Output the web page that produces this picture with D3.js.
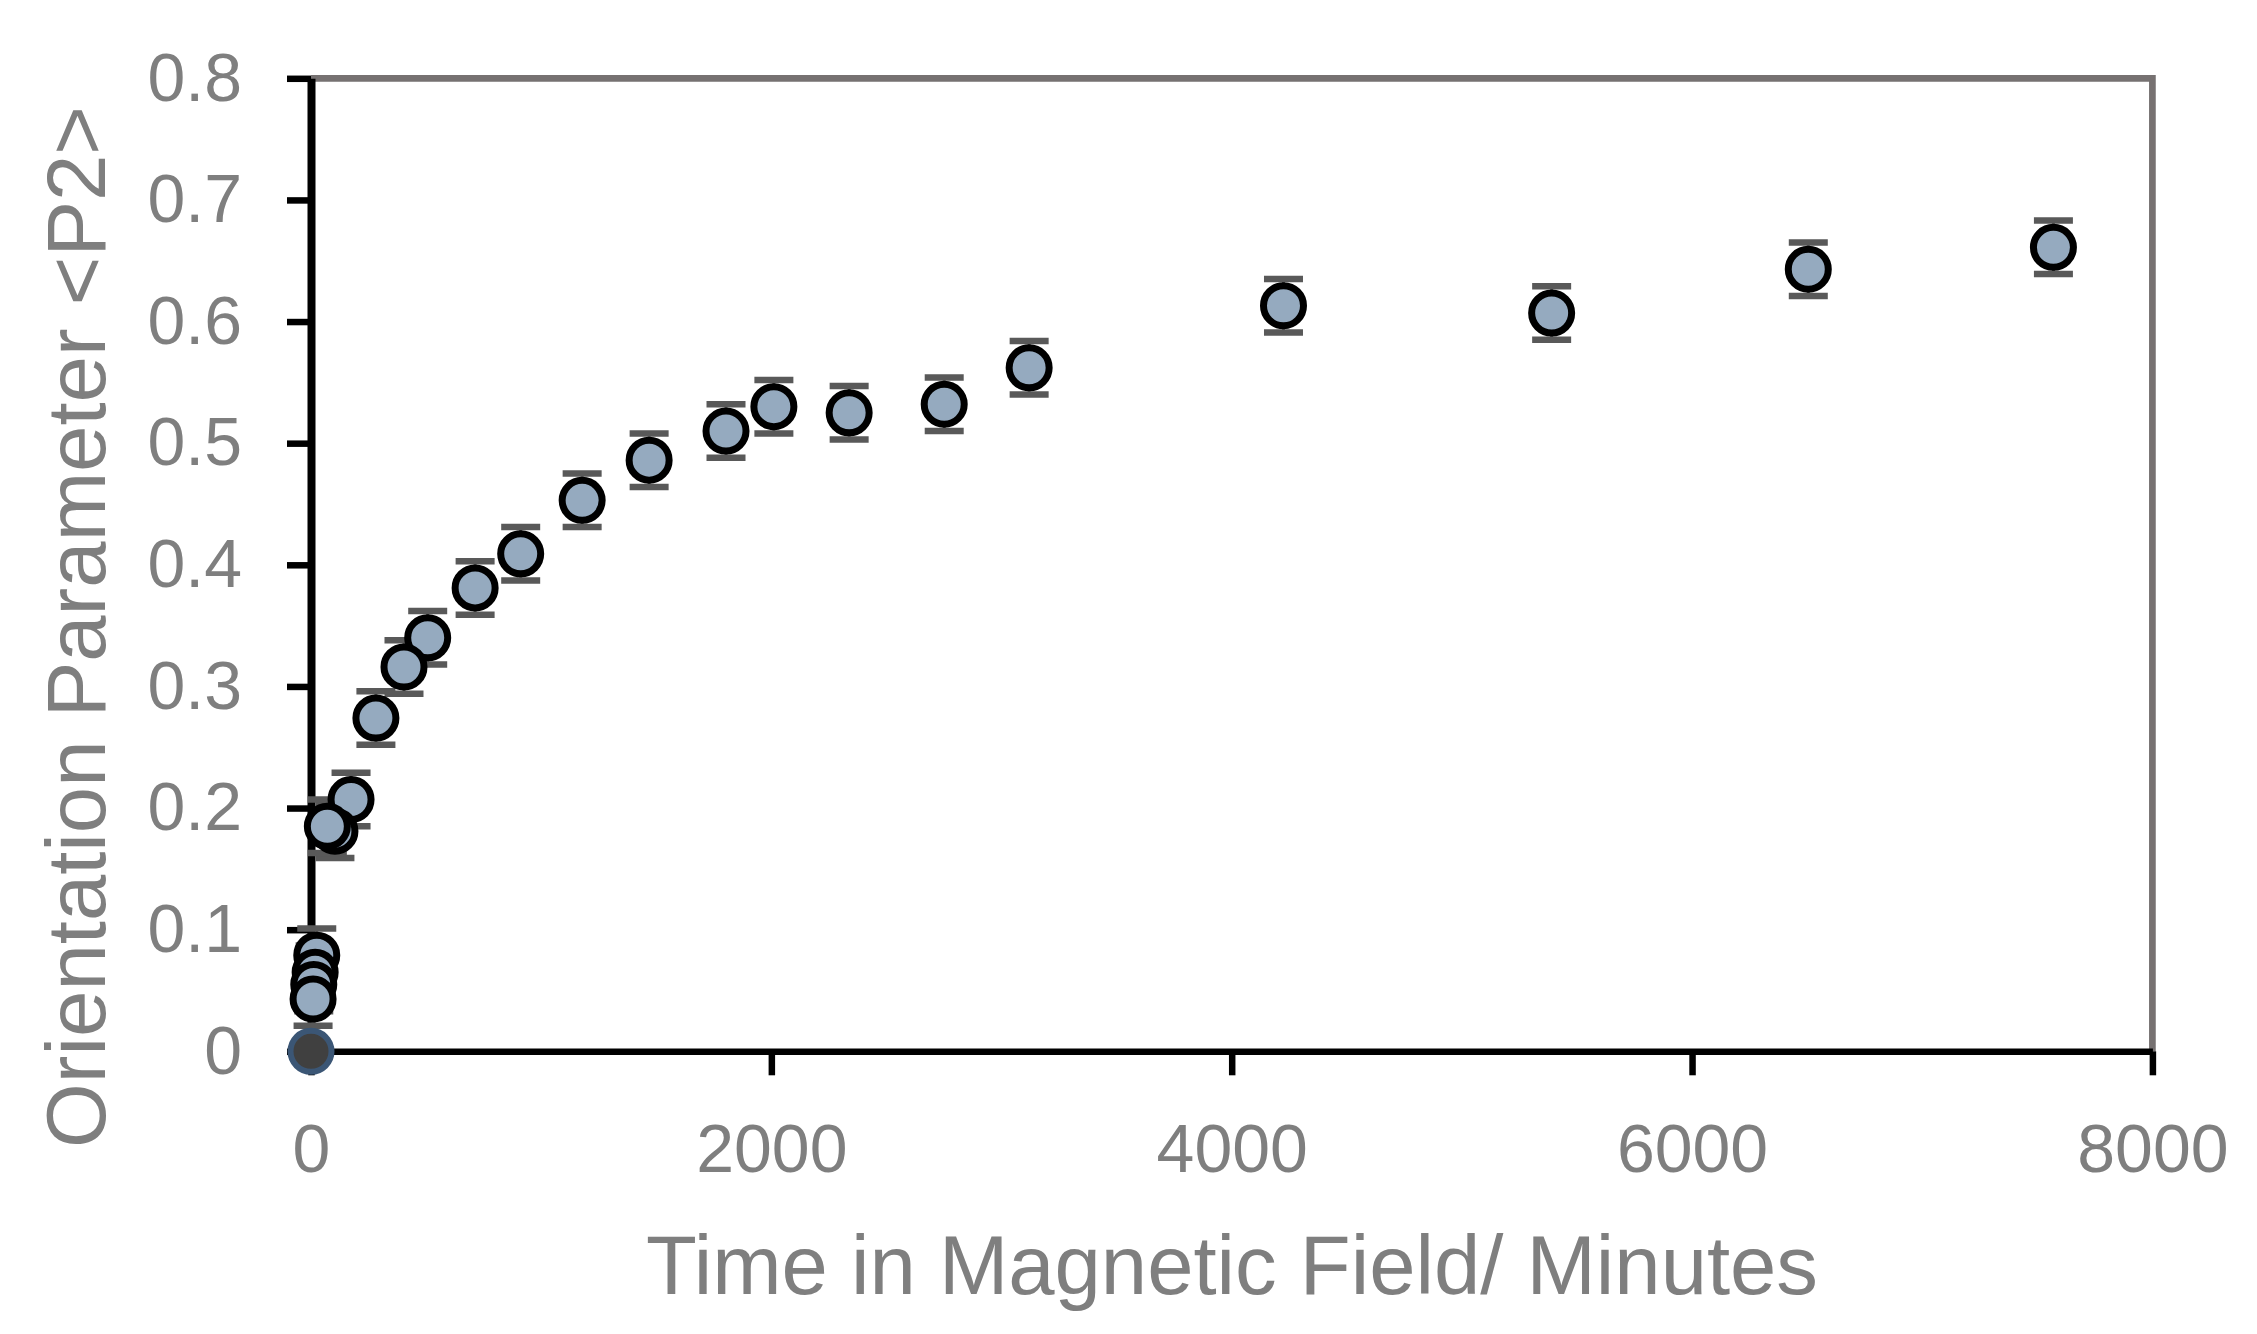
<!DOCTYPE html>
<html>
<head>
<meta charset="utf-8">
<script src="https://cdn.jsdelivr.net/npm/d3@7"></script>
<style>
  html, body { margin: 0; padding: 0; background: #ffffff; }
  svg { display: block; }
</style>
</head>
<body>
<svg id="chart" width="2257" height="1334"></svg>
<script>
// ---- data ----
const timeMinutes = [9, 12, 18, 25, 71, 104, 174, 282, 404, 507, 713, 911, 1178, 1469, 1803, 2011, 2338, 2751, 3120, 4225, 5390, 6505, 7570];
const orientationP2 = [0.043, 0.055, 0.065, 0.079, 0.185, 0.181, 0.207, 0.274, 0.316, 0.340, 0.381, 0.409, 0.453, 0.486, 0.510, 0.530, 0.525, 0.532, 0.562, 0.613, 0.607, 0.643, 0.661];
const errorP2 = [0.022, 0.022, 0.022, 0.022, 0.022, 0.022, 0.022, 0.022, 0.022, 0.022, 0.022, 0.022, 0.022, 0.022, 0.022, 0.022, 0.022, 0.022, 0.022, 0.022, 0.022, 0.022, 0.022];
const startTime = [0];
const startP2 = [0];
const xTickValues = [0, 2000, 4000, 6000, 8000];
const yTickValues = [0, 0.1, 0.2, 0.3, 0.4, 0.5, 0.6, 0.7, 0.8];
const xTitle = "Time in Magnetic Field/ Minutes";
const yTitle = "Orientation Parameter <P2>";

// ---- drawing ----
const svg = d3.select("#chart");
svg.append("rect").attr("width", 2257).attr("height", 1334).attr("fill", "#ffffff");

const x = d3.scaleLinear().domain([0, 8000]).range([311, 2152.4]);
const y = d3.scaleLinear().domain([0, 0.8]).range([1051.3, 78.3]);

const font = "'Liberation Sans', Arial, sans-serif";
const textGray = "#7f7f7f";

// top & right frame (gray)
svg.append("path")
  .attr("d", `M${x(0)},${y(0.8)} H${x(8000)} V${y(0)}`)
  .attr("fill", "none")
  .attr("stroke", "#767171")
  .attr("stroke-width", 6.7);

// left axis
const yAxis = svg.append("g")
  .attr("transform", `translate(${x(0)},0)`)
  .call(d3.axisLeft(y).tickValues(yTickValues).tickSize(24).tickSizeOuter(0).tickPadding(45)
        .tickFormat(d => d3.format("")(+d.toFixed(1))));
yAxis.select(".domain").attr("stroke", "#000").attr("stroke-width", 8);
yAxis.selectAll(".tick line").attr("stroke", "#000").attr("stroke-width", 6.5);
yAxis.selectAll(".tick text").attr("fill", textGray).style("font-family", font).style("font-size", "68px");

// bottom axis
const xAxis = svg.append("g")
  .attr("transform", `translate(0,${y(0)})`)
  .call(d3.axisBottom(x).tickValues(xTickValues).tickSize(24).tickSizeOuter(0).tickPadding(48.4)
        .tickFormat(d3.format("d")));
xAxis.select(".domain").attr("stroke", "#000").attr("stroke-width", 6.5);
xAxis.selectAll(".tick line").attr("stroke", "#000").attr("stroke-width", 6.5);
xAxis.selectAll(".tick text").attr("fill", textGray).style("font-family", font).style("font-size", "68px");

// axis titles
svg.append("text")
  .attr("x", 646).attr("y", 1294)
  .attr("textLength", 1172).attr("lengthAdjust", "spacingAndGlyphs")
  .attr("fill", textGray)
  .style("font-family", font).style("font-size", "84px")
  .text(xTitle);

svg.append("text")
  .attr("transform", "translate(105,627) rotate(-90)")
  .attr("text-anchor", "middle")
  .attr("textLength", 1042).attr("lengthAdjust", "spacingAndGlyphs")
  .attr("fill", textGray)
  .style("font-family", font).style("font-size", "84px")
  .text(yTitle);

// data rows
const rows = timeMinutes.map((t, i) => ({ t, p: orientationP2[i], e: errorP2[i] }));
const drawOrder = rows.slice().reverse();

// error bars
const eb = svg.append("g").attr("stroke", "#595959");
eb.selectAll("line.v").data(drawOrder).join("line").attr("class", "v")
  .attr("x1", d => x(d.t)).attr("x2", d => x(d.t))
  .attr("y1", d => y(d.p - d.e)).attr("y2", d => y(d.p + d.e))
  .attr("stroke-width", 3);
eb.selectAll("line.top").data(drawOrder).join("line").attr("class", "top")
  .attr("x1", d => x(d.t) - 19.5).attr("x2", d => x(d.t) + 19.5)
  .attr("y1", d => y(d.p + d.e)).attr("y2", d => y(d.p + d.e))
  .attr("stroke-width", 6.5);
eb.selectAll("line.bot").data(drawOrder).join("line").attr("class", "bot")
  .attr("x1", d => x(d.t) - 19.5).attr("x2", d => x(d.t) + 19.5)
  .attr("y1", d => y(d.p - d.e)).attr("y2", d => y(d.p - d.e))
  .attr("stroke-width", 6.5);

// markers
svg.append("g").selectAll("circle").data(drawOrder).join("circle")
  .attr("cx", d => x(d.t)).attr("cy", d => y(d.p))
  .attr("r", 20)
  .attr("fill", "#95aabf")
  .attr("stroke", "#000")
  .attr("stroke-width", 7);

// start point (separate series)
svg.append("g").selectAll("circle").data(startTime.map((t, i) => ({ t, p: startP2[i] }))).join("circle")
  .attr("cx", d => x(d.t)).attr("cy", d => y(d.p))
  .attr("r", 20.5)
  .attr("fill", "#404040")
  .attr("stroke", "#3b5675")
  .attr("stroke-width", 6);
</script>
</body>
</html>
